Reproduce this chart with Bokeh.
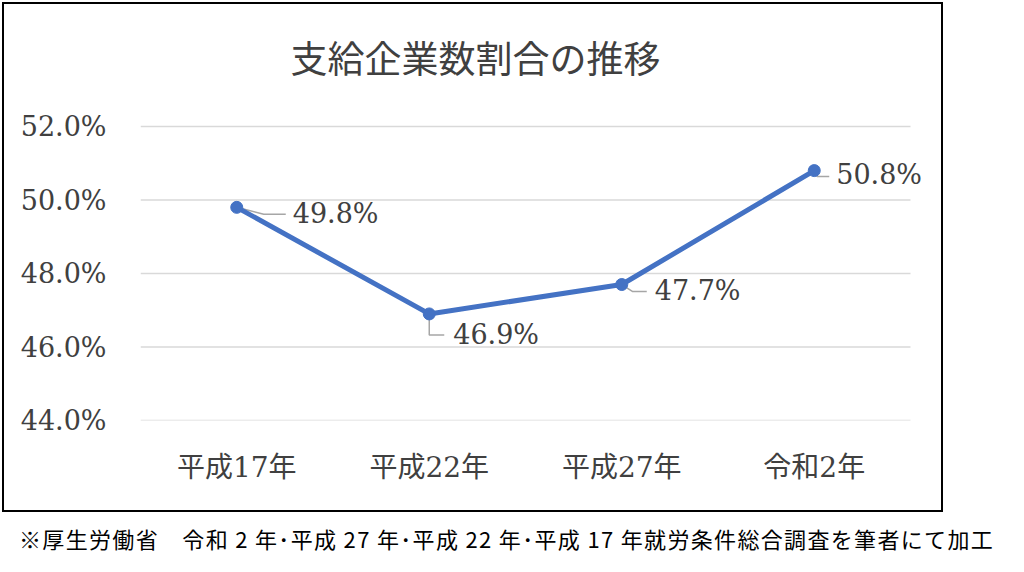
from bokeh.plotting import figure
from bokeh.models import Range1d, FixedTicker, PrintfTickFormatter, ColumnDataSource, Div, Label
from bokeh.layouts import column
from bokeh.embed import file_html
from bokeh.resources import INLINE

# ---- data ----
categories = ["平成17年", "平成22年", "平成27年", "令和2年"]
values = [49.8, 46.9, 47.7, 50.8]
labels = ["49.8%", "46.9%", "47.7%", "50.8%"]
y_ticks = [44, 46, 48, 50, 52]
title_text = "支給企業数割合の推移"
caption_text = "※厚生労働省　令和 2 年･平成 27 年･平成 22 年･平成 17 年就労条件総合調査を筆者にて加工"

# ---- styling / layout ----
PLOT_W, PLOT_H = 770, 294          # pixel size of the gridded plot area
FRAME_W, FRAME_H = 799, 410        # drawable frame (extends right/up so labels & title are not clipped)
Y0, Y1 = 44, 52
px_x = PLOT_W / len(categories)    # px per category unit
px_y = PLOT_H / (Y1 - Y0)          # px per percent
label_dx = [56, 24, 33, 22]
label_dy = [-6, -21, -6, -4]       # Label: positive = up
leader_px = [
    [(0, 0), (27, 7), (49, 7)],
    [(0, 0), (0, 21), (15, 21)],
    [(0, 0), (11, 7), (25, 7)],
    [(0, 0), (3, 6), (15, 6)],
]
SERIF = "'DejaVu Serif', 'Noto Sans CJK JP'"
TXT = "#404040"

p = figure(x_range=Range1d(0, FRAME_W / px_x),
           y_range=Range1d(Y0, Y0 + FRAME_H / px_y),
           width=937, height=506, output_backend="svg", toolbar_location=None,
           min_border_left=136, min_border_right=937 - 136 - FRAME_W,
           min_border_top=506 - 90 - FRAME_H, min_border_bottom=90,
           margin=(4, 0, 0, 4))
p.styles = {"outline": "2px solid #000", "outline-offset": "0px"}
p.outline_line_color = None
p.xgrid.grid_line_color = None
p.ygrid.grid_line_color = None

# category positions on the numeric axis: factor i centred at i + 0.5
cat_x = [i + 0.5 for i in range(len(categories))]
p.xaxis.ticker = FixedTicker(ticks=cat_x)
p.xaxis.major_label_overrides = {x: c for x, c in zip(cat_x, categories)}
p.yaxis.ticker = FixedTicker(ticks=y_ticks)
p.yaxis.formatter = PrintfTickFormatter(format="%.1f%%")
for ax in (p.xaxis, p.yaxis):
    ax.axis_line_color = None
    ax.major_tick_line_color = None
    ax.minor_tick_line_color = None
    ax.major_label_text_color = TXT
p.yaxis.major_label_text_font = SERIF
p.yaxis.major_label_text_font_size = "27px"
p.yaxis.major_label_standoff = 28
p.xaxis.major_label_text_font = SERIF
p.xaxis.major_label_text_font_size = "28px"
p.xaxis.major_label_standoff = 24

# horizontal gridlines across the category span
p.segment(x0=0, x1=len(categories), y0=y_ticks, y1=y_ticks, line_color="#D9D9D9", line_width=1.5)

# title (screen units relative to frame bottom-left)
p.add_layout(Label(x=150, y=364, x_units="screen", y_units="screen", text=title_text,
                   text_font="Noto Sans CJK JP", text_font_size="37px", text_color=TXT,
                   text_align="left", text_baseline="middle"))

# leader lines
xs = [[cat_x[i] + dx / px_x for dx, dy in pts] for i, pts in enumerate(leader_px)]
ys = [[values[i] - dy / px_y for dx, dy in pts] for i, pts in enumerate(leader_px)]
p.multi_line(xs, ys, line_color="#A6A6A6", line_width=1.5)

src = ColumnDataSource(dict(x=cat_x, val=values))
p.line("x", "val", source=src, line_color="#4472C4", line_width=5)
p.scatter("x", "val", source=src, size=12, fill_color="#4472C4", line_color="#4472C4")
for x, v, t, dx, dy in zip(cat_x, values, labels, label_dx, label_dy):
    p.add_layout(Label(x=x, y=v, text=t, x_offset=dx, y_offset=dy,
                       text_font=SERIF, text_font_size="27px", text_color=TXT,
                       text_align="left", text_baseline="middle"))

cap = Div(text=caption_text, width=1000, height=40,
          styles={"font-family": "'Noto Sans CJK JP'", "font-size": "22px", "color": "#000",
                  "letter-spacing": "1.33px", "line-height": "32px",
                  "padding-left": "14px", "padding-top": "7px", "white-space": "nowrap"})

layout = column(p, cap)
open("out.html", "w").write(file_html(layout, INLINE))
